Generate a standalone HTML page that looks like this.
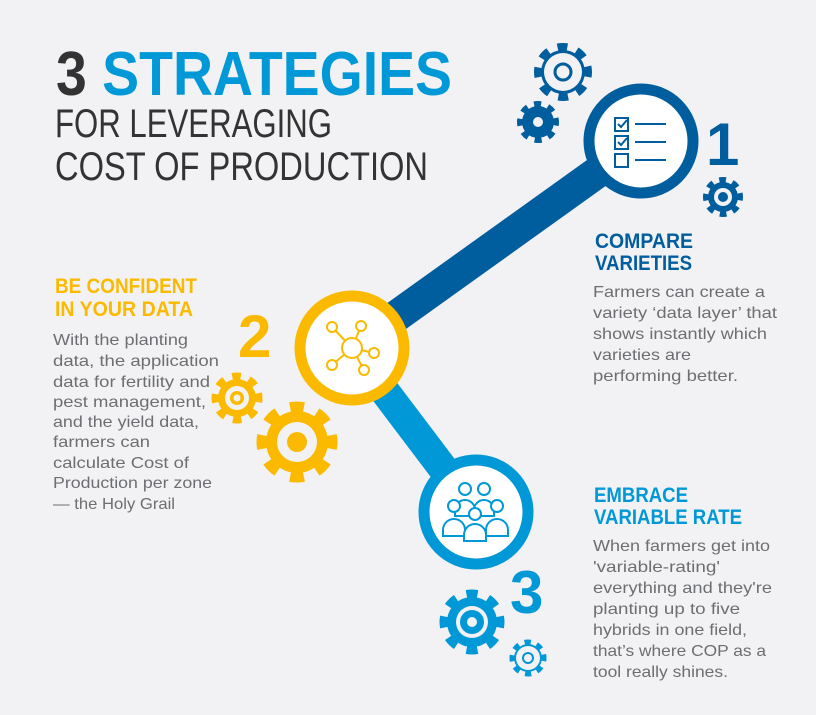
<!DOCTYPE html>
<html><head><meta charset="utf-8"><style>
html,body{margin:0;padding:0;background:#f2f2f4;}
svg{display:block}
text{font-family:"Liberation Sans",sans-serif;}
.h{font-weight:bold;font-size:21px}
.b{font-size:16px;fill:#6d6e71}
</style></head><body>
<svg width="816" height="715" viewBox="0 0 816 715" xmlns="http://www.w3.org/2000/svg">
<rect width="816" height="715" fill="#f2f2f4"/>
<!-- title -->
<text x="56" y="95" font-size="62" font-weight="bold" textLength="396" lengthAdjust="spacingAndGlyphs"><tspan fill="#333">3</tspan><tspan fill="#0098d6"> STRATEGIES</tspan></text>
<text x="55" y="137" font-size="40" fill="#333" textLength="277" lengthAdjust="spacingAndGlyphs">FOR LEVERAGING</text>
<text x="55" y="180" font-size="40" fill="#333" textLength="373" lengthAdjust="spacingAndGlyphs">COST OF PRODUCTION</text>

<!-- bars -->
<line x1="352" y1="348" x2="641" y2="141" stroke="#005d9e" stroke-width="32"/>
<line x1="352" y1="348" x2="476" y2="512" stroke="#0098d6" stroke-width="30"/>

<!-- circles -->
<circle cx="641" cy="141" r="52" fill="#fff" stroke="#005d9e" stroke-width="11"/>
<circle cx="352" cy="348" r="52" fill="#fff" stroke="#fbba00" stroke-width="11"/>
<circle cx="476" cy="512" r="52" fill="#fff" stroke="#0098d6" stroke-width="11"/>

<!-- checklist -->
<g fill="none" stroke="#005d9e" stroke-width="2">
<rect x="615" y="118" width="13" height="13"/><rect x="615" y="136" width="13" height="13"/><rect x="615" y="154" width="13" height="13"/>
<path d="M618 124l3 3 6-7M618 142l3 3 6-7"/>
<path d="M635 124h31M635 142h31M635 160h31"/>
</g>
<!-- network -->
<g fill="#fff" stroke="#fbba00" stroke-width="2">
<path d="M352 348L332 327M352 348L361 326M352 348L374 353M352 348L364 370M352 348L332 365"/>
<circle cx="352" cy="348" r="10"/>
<circle cx="332" cy="327" r="5"/><circle cx="361" cy="326" r="5"/><circle cx="374" cy="353" r="5"/><circle cx="364" cy="370" r="5"/><circle cx="332" cy="365" r="5"/>
</g>
<!-- people -->
<g fill="#fff" stroke="#0098d6" stroke-width="2">
<path d="M455 510a10 10 0 0 1 20 0v6h-20z"/><path d="M474 510a10 10 0 0 1 20 0v6h-20z"/>
<circle cx="465" cy="489" r="6"/><circle cx="484" cy="489" r="6"/>
<path d="M443 530a11 11 0 0 1 22 0v6h-22z"/><path d="M486 530a11 11 0 0 1 22 0v6h-22z"/>
<circle cx="454" cy="506" r="6"/><circle cx="497" cy="506" r="6"/>
<path d="M464 535a11 11 0 0 1 22 0v6h-22z"/>
<circle cx="475" cy="514" r="6"/>
</g>

<!-- numbers -->
<text x="706" y="165" font-size="60" font-weight="bold" fill="#005d9e">1</text>
<text x="238" y="357" font-size="60" font-weight="bold" fill="#fbba00">2</text>
<text x="510" y="613" font-size="60" font-weight="bold" fill="#0098d6">3</text>

<!-- gears -->
<!-- outline dark -->
<g transform="translate(563,72)">
<circle r="25" fill="none" stroke="#005d9e" stroke-width="8" pathLength="16" stroke-dasharray="1 1" stroke-dashoffset="0.5"/>
<circle r="22" fill="#005d9e"/><circle r="19" fill="#f2f2f4"/>
<circle r="8" fill="none" stroke="#005d9e" stroke-width="3"/>
</g>
<g transform="translate(538,122)">
<circle r="18" fill="none" stroke="#005d9e" stroke-width="6" pathLength="16" stroke-dasharray="1 1" stroke-dashoffset="0.5"/>
<circle r="16" fill="#005d9e"/><circle r="5" fill="#f2f2f4"/>
</g>
<g transform="translate(723,197)">
<circle r="17" fill="none" stroke="#005d9e" stroke-width="6" pathLength="16" stroke-dasharray="1 1" stroke-dashoffset="0.5"/>
<circle r="15" fill="#005d9e"/><circle r="9" fill="#f2f2f4"/><circle r="5" fill="#005d9e"/>
</g>
<g transform="translate(237,398)">
<circle r="22" fill="none" stroke="#fbba00" stroke-width="7" pathLength="16" stroke-dasharray="1 1" stroke-dashoffset="0.5"/>
<circle r="19" fill="#fbba00"/><circle r="12" fill="#f2f2f4"/><circle r="7" fill="#fbba00"/><circle r="3.5" fill="#f2f2f4"/>
</g>
<g transform="translate(297,442)">
<circle r="35" fill="none" stroke="#fbba00" stroke-width="11" pathLength="16" stroke-dasharray="1 1" stroke-dashoffset="0.5"/>
<circle r="31" fill="#fbba00"/><circle r="20" fill="#f2f2f4"/><circle r="10" fill="#fbba00"/>
</g>
<g transform="translate(472,622)">
<circle r="28" fill="none" stroke="#0098d6" stroke-width="9" pathLength="16" stroke-dasharray="1 1" stroke-dashoffset="0.5"/>
<circle r="25" fill="#0098d6"/><circle r="16" fill="#f2f2f4"/><circle r="12" fill="#0098d6"/><circle r="5" fill="#f2f2f4"/>
</g>
<g transform="translate(528,658)">
<circle r="16" fill="none" stroke="#0098d6" stroke-width="5" pathLength="16" stroke-dasharray="1 1" stroke-dashoffset="0.5"/>
<circle r="14" fill="#0098d6"/><circle r="12" fill="#f2f2f4"/>
<circle r="5" fill="none" stroke="#0098d6" stroke-width="2"/>
</g>

<!-- right top text -->
<text class="h" fill="#005d9e" x="595" y="248" textLength="98" lengthAdjust="spacingAndGlyphs">COMPARE</text>
<text class="h" fill="#005d9e" x="595" y="270" textLength="97" lengthAdjust="spacingAndGlyphs">VARIETIES</text>
<text class="b" x="593" y="297" textLength="172" lengthAdjust="spacingAndGlyphs">Farmers can create a</text>
<text class="b" x="593" y="318" textLength="184" lengthAdjust="spacingAndGlyphs">variety ‘data layer’ that</text>
<text class="b" x="593" y="339" textLength="174" lengthAdjust="spacingAndGlyphs">shows instantly which</text>
<text class="b" x="593" y="360" textLength="98" lengthAdjust="spacingAndGlyphs">varieties are</text>
<text class="b" x="593" y="381" textLength="145" lengthAdjust="spacingAndGlyphs">performing better.</text>

<!-- left text -->
<text class="h" fill="#fbba00" x="55" y="293" textLength="142" lengthAdjust="spacingAndGlyphs">BE CONFIDENT</text>
<text class="h" fill="#fbba00" x="55" y="316" textLength="138" lengthAdjust="spacingAndGlyphs">IN YOUR DATA</text>
<text class="b" x="53" y="345" textLength="135" lengthAdjust="spacingAndGlyphs">With the planting</text>
<text class="b" x="53" y="366" textLength="166" lengthAdjust="spacingAndGlyphs">data, the application</text>
<text class="b" x="53" y="387" textLength="157" lengthAdjust="spacingAndGlyphs">data for fertility and</text>
<text class="b" x="53" y="407" textLength="153" lengthAdjust="spacingAndGlyphs">pest management,</text>
<text class="b" x="53" y="427" textLength="146" lengthAdjust="spacingAndGlyphs">and the yield data,</text>
<text class="b" x="53" y="447" textLength="97" lengthAdjust="spacingAndGlyphs">farmers can</text>
<text class="b" x="53" y="468" textLength="136" lengthAdjust="spacingAndGlyphs">calculate Cost of</text>
<text class="b" x="53" y="488" textLength="159" lengthAdjust="spacingAndGlyphs">Production per zone</text>
<text class="b" x="53" y="509" textLength="122" lengthAdjust="spacingAndGlyphs">— the Holy Grail</text>

<!-- right bottom text -->
<text class="h" fill="#0098d6" x="594" y="502" textLength="94" lengthAdjust="spacingAndGlyphs">EMBRACE</text>
<text class="h" fill="#0098d6" x="594" y="524" textLength="148" lengthAdjust="spacingAndGlyphs">VARIABLE RATE</text>
<text class="b" x="593" y="551" textLength="177" lengthAdjust="spacingAndGlyphs">When farmers get into</text>
<text class="b" x="593" y="572" textLength="127" lengthAdjust="spacingAndGlyphs">'variable-rating'</text>
<text class="b" x="593" y="593" textLength="179" lengthAdjust="spacingAndGlyphs">everything and they're</text>
<text class="b" x="593" y="614" textLength="147" lengthAdjust="spacingAndGlyphs">planting up to  five</text>
<text class="b" x="593" y="635" textLength="154" lengthAdjust="spacingAndGlyphs">hybrids in one field,</text>
<text class="b" x="593" y="656" textLength="173" lengthAdjust="spacingAndGlyphs">that’s where COP as a</text>
<text class="b" x="593" y="677" textLength="135" lengthAdjust="spacingAndGlyphs">tool really shines.</text>
</svg>
</body></html>
